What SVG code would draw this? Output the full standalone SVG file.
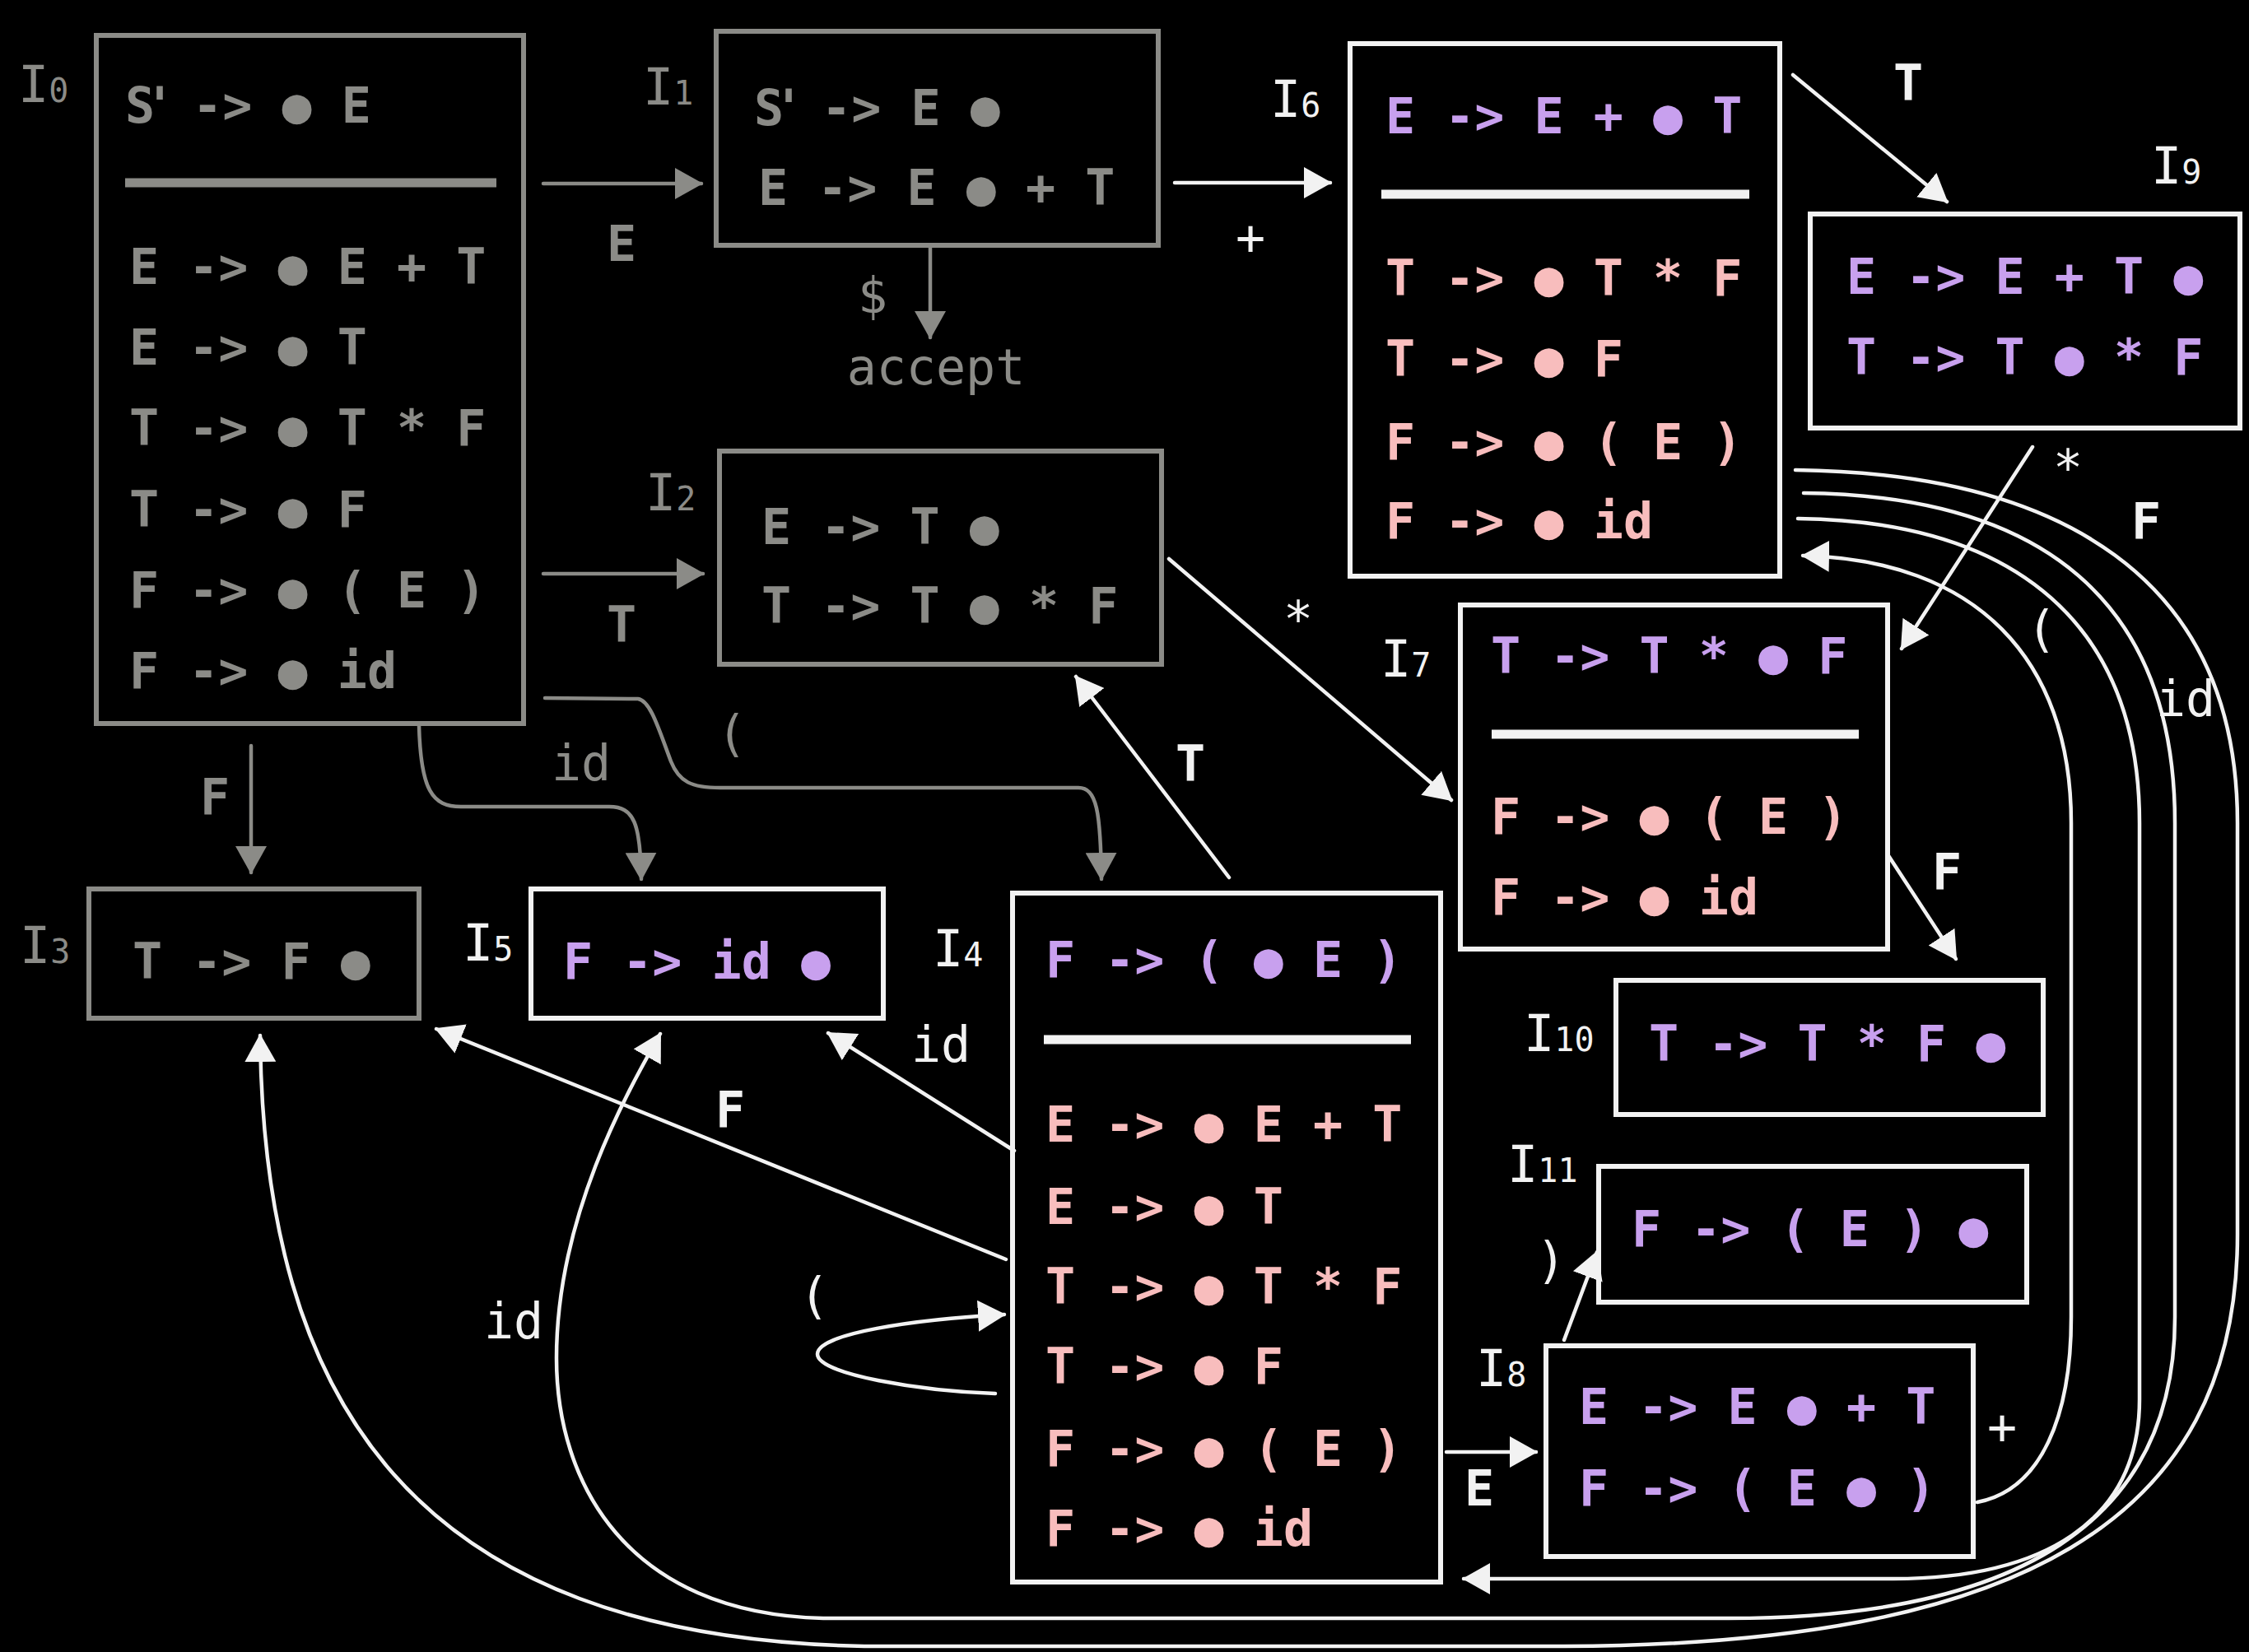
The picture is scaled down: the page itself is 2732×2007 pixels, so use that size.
<svg xmlns="http://www.w3.org/2000/svg" width="2732" height="2007" viewBox="0 0 2732 2007">
  <defs>
    <marker id="aw" markerUnits="userSpaceOnUse" markerWidth="34" markerHeight="38" viewBox="0 0 34 38" refX="32" refY="19" orient="auto">
      <path d="M0,0 L34,19 L0,38 z" fill="#f2f2f2"/>
    </marker>
    <marker id="ag" markerUnits="userSpaceOnUse" markerWidth="34" markerHeight="38" viewBox="0 0 34 38" refX="32" refY="19" orient="auto">
      <path d="M0,0 L34,19 L0,38 z" fill="#8b8b87"/>
    </marker>
    <style>
      .it { font-family: "DejaVu Sans Mono", "Liberation Mono", monospace; font-size: 60px; font-weight: bold; }
      .lb { font-family: "DejaVu Sans Mono", "Liberation Mono", monospace; font-size: 62px; }
      .el { font-family: "DejaVu Sans Mono", "Liberation Mono", monospace; font-size: 60px; text-anchor: middle; }
      .bd { font-weight: bold; }
      .sub { font-size: 40px; }
      .g { fill: #8b8b87; }
      .w { fill: #f2f2f2; }
      .p { fill: #c8a0ee; }
      .k { fill: #f8bdbd; }
      .bxg { fill: none; stroke: #8b8b87; stroke-width: 6; }
      .bxw { fill: none; stroke: #f2f2f2; stroke-width: 6; }
      .sg { stroke: #8b8b87; stroke-width: 11; }
      .sw { stroke: #f2f2f2; stroke-width: 11; }
      .cw { fill: none; stroke: #f2f2f2; stroke-width: 4.5; stroke-linecap: round; marker-end: url(#aw); }
      .cg { fill: none; stroke: #8b8b87; stroke-width: 4.5; stroke-linecap: round; marker-end: url(#ag); }
    </style>
  </defs>

  <rect width="2732" height="2007" fill="#000"/>

  <!-- item sets -->
  <g id="I0">
    <rect class="bxg" x="117" y="43" width="519" height="836"/>
    <text class="lb g" x="22" y="124">I<tspan class="sub">0</tspan></text>
    <text class="it g" x="152 176 198" y="149">S' -> ● E</text>
    <line class="sg" x1="152" y1="222" x2="603" y2="222"/>
    <text class="it g" x="157" y="345">E -> ● E + T</text>
    <text class="it g" x="157" y="443">E -> ● T</text>
    <text class="it g" x="157" y="541">T -> ● T * F</text>
    <text class="it g" x="157" y="640">T -> ● F</text>
    <text class="it g" x="157" y="738">F -> ● ( E )</text>
    <text class="it g" x="157" y="836">F -> ● id</text>
  </g>

  <g id="I1">
    <rect class="bxg" x="870" y="38" width="537" height="260"/>
    <text class="lb g" x="781" y="127">I<tspan class="sub">1</tspan></text>
    <text class="it g" x="916 940 962" y="152">S' -> E ●</text>
    <text class="it g" x="921" y="249">E -> E ● + T</text>
  </g>

  <g id="I2">
    <rect class="bxg" x="874" y="548" width="537" height="259"/>
    <text class="lb g" x="784" y="620">I<tspan class="sub">2</tspan></text>
    <text class="it g" x="925" y="661">E -> T ●</text>
    <text class="it g" x="925" y="757">T -> T ● * F</text>
  </g>

  <g id="I3">
    <rect class="bxg" x="108" y="1080" width="401" height="157"/>
    <text class="lb g" x="24" y="1170">I<tspan class="sub">3</tspan></text>
    <text class="it g" x="161" y="1189">T -> F ●</text>
  </g>

  <g id="I5">
    <rect class="bxw" x="645" y="1080" width="428" height="157"/>
    <text class="lb w" x="562" y="1167">I<tspan class="sub">5</tspan></text>
    <text class="it p" x="684" y="1189">F -> id ●</text>
  </g>

  <g id="I4">
    <rect class="bxw" x="1230" y="1085" width="520" height="837"/>
    <text class="lb w" x="1133" y="1174">I<tspan class="sub">4</tspan></text>
    <text class="it p" x="1270" y="1187">F -> ( ● E )</text>
    <line class="sw" x1="1268" y1="1263" x2="1714" y2="1263"/>
    <text class="it k" x="1270" y="1387">E -> ● E + T</text>
    <text class="it k" x="1270" y="1487">E -> ● T</text>
    <text class="it k" x="1270" y="1584">T -> ● T * F</text>
    <text class="it k" x="1270" y="1681">T -> ● F</text>
    <text class="it k" x="1270" y="1781">F -> ● ( E )</text>
    <text class="it k" x="1270" y="1878">F -> ● id</text>
  </g>

  <g id="I6">
    <rect class="bxw" x="1640" y="53" width="522" height="647"/>
    <text class="lb w" x="1543" y="142">I<tspan class="sub">6</tspan></text>
    <text class="it p" x="1683" y="162">E -> E + ● T</text>
    <line class="sw" x1="1678" y1="236" x2="2125" y2="236"/>
    <text class="it k" x="1683" y="359">T -> ● T * F</text>
    <text class="it k" x="1683" y="457">T -> ● F</text>
    <text class="it k" x="1683" y="558">F -> ● ( E )</text>
    <text class="it k" x="1683" y="654">F -> ● id</text>
  </g>

  <g id="I9">
    <rect class="bxw" x="2199" y="260" width="522" height="260"/>
    <text class="lb w" x="2613" y="223">I<tspan class="sub">9</tspan></text>
    <text class="it p" x="2243" y="357">E -> E + T ●</text>
    <text class="it p" x="2243" y="455">T -> T ● * F</text>
  </g>

  <g id="I7">
    <rect class="bxw" x="1774" y="735" width="519" height="418"/>
    <text class="lb w" x="1677" y="822">I<tspan class="sub">7</tspan></text>
    <text class="it p" x="1811" y="818">T -> T * ● F</text>
    <line class="sw" x1="1812" y1="892" x2="2258" y2="892"/>
    <text class="it k" x="1811" y="1013">F -> ● ( E )</text>
    <text class="it k" x="1811" y="1111">F -> ● id</text>
  </g>

  <g id="I10">
    <rect class="bxw" x="1963" y="1191" width="519" height="163"/>
    <text class="lb w" x="1851" y="1277">I<tspan class="sub">10</tspan></text>
    <text class="it p" x="2003" y="1289">T -> T * F ●</text>
  </g>

  <g id="I11">
    <rect class="bxw" x="1942" y="1417" width="520" height="165"/>
    <text class="lb w" x="1831" y="1436">I<tspan class="sub">11</tspan></text>
    <text class="it p" x="1982" y="1514">F -> ( E ) ●</text>
  </g>

  <g id="I8">
    <rect class="bxw" x="1878" y="1635" width="519" height="256"/>
    <text class="lb w" x="1793" y="1684">I<tspan class="sub">8</tspan></text>
    <text class="it p" x="1918" y="1730">E -> E ● + T</text>
    <text class="it p" x="1918" y="1829">F -> ( E ● )</text>
  </g>

  <!-- transitions -->
  <g id="connectors">
    <!-- from I0 / I1 (grey) -->
    <path class="cg" d="M660 223 L852 223"/>
    <path class="cg" d="M660 697 L854 697"/>
    <path class="cg" d="M305 906 L305 1060"/>
    <path class="cg" d="M509 881 C511 960 525 980 560 980 L740 980 C770 980 778 1000 779 1068"/>
    <path class="cg" d="M662 848 L775 849 C790 851 800 885 815 925 C825 950 840 957 875 957 L1310 957 C1332 957 1337 985 1338 1068"/>
    <path class="cg" d="M1130 298 L1130 410"/>

    <!-- white transitions -->
    <path class="cw" d="M1427 222 L1616 222"/>
    <path class="cw" d="M2178 91 L2365 245"/>
    <path class="cw" d="M1420 679 L1763 972"/>
    <path class="cw" d="M1493 1066 L1307 822"/>
    <path class="cw" d="M2469 543 L2310 788"/>
    <path class="cw" d="M2293 1038 L2376 1165"/>
    <path class="cw" d="M1232 1398 L1006 1255"/>
    <path class="cw" d="M1222 1530 L530 1250"/>
    <path class="cw" d="M1209 1693 C1120 1690 993 1670 993 1645 C993 1620 1110 1603 1220 1597"/>
    <path class="cw" d="M1757 1764 L1866 1764"/>
    <path class="cw" d="M1900 1628 L1940 1521"/>

    <!-- long arcs round the right side -->
    <path class="cw" d="M2181 571 C2500 575 2718 700 2718 1000 L2718 1500 C2718 1850 2450 1998 1900 2000 L1050 2000 C500 1990 320 1700 316 1258"/>
    <path class="cw" d="M2191 599 C2480 602 2642 730 2642 1000 L2642 1600 C2642 1850 2450 1966 2100 1966 L1000 1966 C760 1960 676 1800 676 1650 C676 1480 760 1330 802 1256"/>
    <path class="cw" d="M2184 630 C2450 633 2599 760 2599 1000 L2599 1700 C2599 1850 2480 1918 2300 1918 L1778 1918"/>
    <path class="cw" d="M2402 1825 C2480 1810 2516 1720 2516 1600 L2516 1000 C2516 800 2400 680 2190 675"/>

    <!-- labels -->
    <text class="el bd g" x="755" y="317">E</text>
    <text class="el bd g" x="755" y="780">T</text>
    <text class="el bd g" x="261" y="989">F</text>
    <text class="el g" x="706" y="948">id</text>
    <text class="el g" x="889" y="912">(</text>
    <text class="el g" x="1060" y="380">$</text>
    <text class="el g" x="1137" y="467">accept</text>

    <text class="el w" x="1519" y="309">+</text>
    <text class="el bd w" x="2318" y="122">T</text>
    <text class="el w" x="1577" y="773">*</text>
    <text class="el bd w" x="1446" y="949">T</text>
    <text class="el w" x="2512" y="589">*</text>
    <text class="el bd w" x="2607" y="654">F</text>
    <text class="el w" x="2480" y="785">(</text>
    <text class="el w" x="2655" y="870">id</text>
    <text class="el bd w" x="2365" y="1080">F</text>
    <text class="el w" x="1143" y="1290">id</text>
    <text class="el bd w" x="887" y="1369">F</text>
    <text class="el w" x="989" y="1595">(</text>
    <text class="el w" x="624" y="1626">id</text>
    <text class="el bd w" x="1797" y="1829">E</text>
    <text class="el w" x="1884" y="1552">)</text>
    <text class="el w" x="2432" y="1754">+</text>
  </g>
</svg>
